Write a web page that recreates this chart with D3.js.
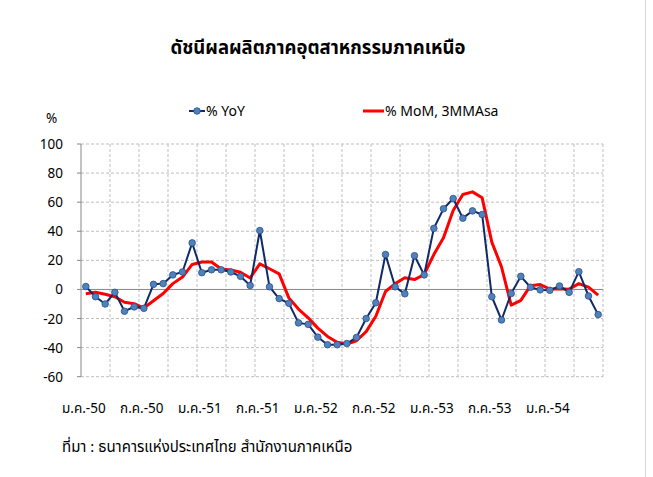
<!DOCTYPE html>
<html><head><meta charset="utf-8">
<script src="https://cdn.jsdelivr.net/npm/d3@7"></script>
<style>
body{margin:0;background:#fff;}
text{font-family:Tahoma,"Noto Sans Thai","Noto Sans","DejaVu Sans",sans-serif;fill:#000;}
</style></head>
<body>
<svg id="c" width="653" height="477"></svg>
<script>
const monthNames = ["ม.ค.","ก.พ.","มี.ค.","เม.ย.","พ.ค.","มิ.ย.","ก.ค.","ส.ค.","ก.ย.","ต.ค.","พ.ย.","ธ.ค."];
const years = ["50","51","52","53","54"];
const categories = [];
years.forEach(y => monthNames.forEach(m => categories.push(m + "-" + y)));
categories.length = 54;

const yoy = [2,-5,-10,-2,-15,-12,-13,3.5,4,10,12,32,11.5,13.5,13.5,12,9,2.7,40.5,1.8,
  -6.3,-9.5,-23,-24,-32.8,-38,-38,-37.2,-33,-20,-9.2,24,1.8,-3,23.2,10,42,55.5,62.5,49,
  54,51.5,-5,-21,-2.8,9,1.5,-0.3,-0.6,2.4,-2,12.2,-4.5,-17.3];
const mom3mma = [-3,-2,-3.3,-5,-8.8,-9.8,-12.8,-7.8,-2.8,4,8.5,17.2,18.9,18.9,14,13.4,11.8,7.9,17.6,14.2,
  10.7,-5.8,-13.5,-19.5,-26.6,-32.3,-36.3,-37.5,-35.3,-29,-18.4,-1.4,4,8,6.8,10.3,24,35.5,54.3,65.3,
  67.1,63,32.5,15.5,-10.8,-7.5,2.6,3.4,0.2,0.4,0.2,4,1.6,-3.9];
const yTicks = [100,80,60,40,20,0,-20,-40,-60];
const title = "ดัชนีผลผลิตภาคอุตสาหกรรมภาคเหนือ";
const seriesNames = ["% YoY","% MoM, 3MMAsa"];
const source = "ที่มา : ธนาคารแห่งประเทศไทย สำนักงานภาคเหนือ";

const svg = d3.select("#c");
const L = 81, R = 603, T = 144, B = 376.7;
const x = d3.scaleBand().domain(d3.range(categories.length)).range([L, R]).paddingInner(0).paddingOuter(0);
const y = d3.scaleLinear().domain([-60, 100]).range([B, T]);
const cx = i => x(i) + x.bandwidth() / 2;

// horizontal grid
svg.append("g").selectAll("line").data(yTicks.filter(v => v !== 0)).join("line")
  .attr("x1", L).attr("x2", R).attr("y1", d => y(d)).attr("y2", d => y(d))
  .attr("stroke", "#bfbfbf").attr("stroke-width", 1).attr("stroke-dasharray", "3,2");
// vertical grid every 3 categories
const vIdx = d3.range(3, categories.length + 1, 3);
svg.append("g").selectAll("line").data(vIdx).join("line")
  .attr("x1", d => d < categories.length ? x(d) : R).attr("x2", d => d < categories.length ? x(d) : R)
  .attr("y1", T).attr("y2", B)
  .attr("stroke", "#bfbfbf").attr("stroke-width", 1).attr("stroke-dasharray", "3,2");
// zero line and left axis
svg.append("line").attr("x1", L).attr("x2", R).attr("y1", y(0)).attr("y2", y(0))
  .attr("stroke", "#868686").attr("stroke-width", 1);
svg.append("line").attr("x1", L).attr("x2", L).attr("y1", T).attr("y2", B)
  .attr("stroke", "#868686").attr("stroke-width", 1);
svg.append("g").selectAll("line").data(yTicks).join("line")
  .attr("x1", L - 4).attr("x2", L).attr("y1", d => y(d)).attr("y2", d => y(d))
  .attr("stroke", "#868686");

// y labels
svg.append("g").selectAll("text").data(yTicks).join("text")
  .attr("x", 63).attr("y", d => y(d) + 5).attr("text-anchor", "end")
  .attr("font-size", 13.5).text(d => d);
svg.append("text").attr("x", 46).attr("y", 123).attr("font-size", 13.5).text("%");

// x labels
svg.append("g").selectAll("text").data(d3.range(0, categories.length, 6)).join("text")
  .attr("x", d => cx(d) - 2).attr("y", 413).attr("text-anchor", "middle")
  .attr("font-size", 13.5).text(d => categories[d]);

// series
const lineGen = d3.line().x((d, i) => cx(i)).y(d => y(d));
svg.append("path").datum(mom3mma).attr("d", lineGen).attr("fill", "none")
  .attr("stroke", "#ff0000").attr("stroke-width", 3).attr("stroke-linejoin", "round");
svg.append("path").datum(yoy).attr("d", lineGen).attr("fill", "none")
  .attr("stroke", "#0f2a66").attr("stroke-width", 2);
svg.append("g").selectAll("circle").data(yoy).join("circle")
  .attr("cx", (d, i) => cx(i)).attr("cy", d => y(d)).attr("r", 3.3)
  .attr("fill", "#4f81bd").attr("stroke", "#2c5184").attr("stroke-width", 0.8);

// title
svg.append("text").attr("x", 318).attr("y", 54).attr("text-anchor", "middle")
  .attr("font-size", 18.5).attr("font-weight", "bold").text(title);

// legend
const lg = svg.append("g");
lg.append("line").attr("x1", 189).attr("x2", 205).attr("y1", 111).attr("y2", 111)
  .attr("stroke", "#0f2a66").attr("stroke-width", 2);
lg.append("circle").attr("cx", 197).attr("cy", 111).attr("r", 3.3)
  .attr("fill", "#4f81bd").attr("stroke", "#2c5184").attr("stroke-width", 0.8);
lg.append("text").attr("x", 206).attr("y", 116).attr("font-size", 14).text(seriesNames[0]);
lg.append("line").attr("x1", 363).attr("x2", 384).attr("y1", 111).attr("y2", 111)
  .attr("stroke", "#ff0000").attr("stroke-width", 3);
lg.append("text").attr("x", 385).attr("y", 116).attr("font-size", 14).text(seriesNames[1]);

// source
svg.append("text").attr("x", 62).attr("y", 452).attr("font-size", 15).text(source);

// outer frame line on right
svg.append("line").attr("x1", 645.5).attr("x2", 645.5).attr("y1", 0).attr("y2", 477)
  .attr("stroke", "#d9d9d9");
</script>
</body></html>
